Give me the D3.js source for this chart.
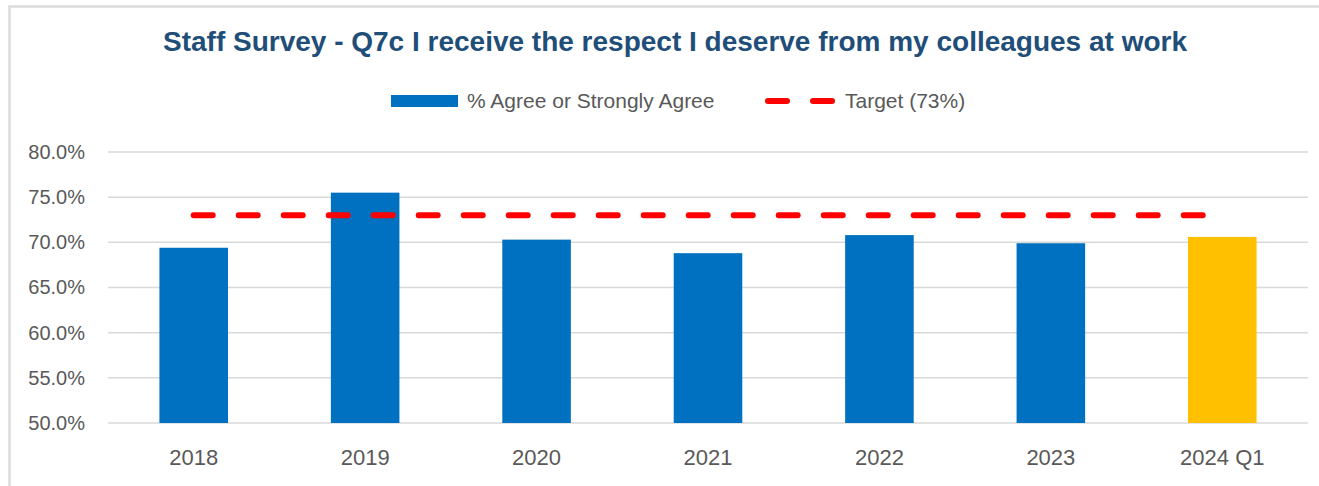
<!DOCTYPE html>
<html>
<head>
<meta charset="utf-8">
<script src="https://cdnjs.cloudflare.com/ajax/libs/d3/7.8.5/d3.min.js"></script>
<style>
  body { margin: 0; background: #fff; }
  text { font-family: "Liberation Sans", Arial, sans-serif; }
</style>
</head>
<body>
<svg id="chart" width="1319" height="486"></svg>
<script>
// data
var categories = ["2018", "2019", "2020", "2021", "2022", "2023", "2024 Q1"];
var agreeValues = [69.4, 75.5, 70.3, 68.8, 70.8, 69.9, 70.6];
var barColours = ["#0070C0", "#0070C0", "#0070C0", "#0070C0", "#0070C0", "#0070C0", "#FFC000"];
var target = 73;
var yTicks = [50, 55, 60, 65, 70, 75, 80];

var svg = d3.select("#chart");

var margin = {left: 108, right: 11, top: 152, bottom: 63};
var W = 1319, H = 486;

// frame of the original chart area
svg.append("rect")
    .attr("x", 9.5).attr("y", 6.5)
    .attr("width", 1330).attr("height", 500)
    .attr("fill", "none")
    .attr("stroke", "#dcdcdc")
    .attr("stroke-width", 2.5);

var x = d3.scaleBand()
    .domain(categories)
    .range([margin.left, W - margin.right])
    .paddingInner(0.6)
    .paddingOuter(0.3);

var y = d3.scaleLinear()
    .domain([50, 80])
    .range([H - margin.bottom, margin.top]);

// gridlines
svg.append("g")
  .selectAll("line")
  .data(yTicks)
  .enter()
  .append("line")
    .attr("x1", margin.left)
    .attr("x2", W - margin.right)
    .attr("y1", d => y(d))
    .attr("y2", d => y(d))
    .attr("stroke", "#d9d9d9")
    .attr("stroke-width", 1.5);

// y axis labels
var yAxis = d3.axisLeft(y)
    .tickValues(yTicks)
    .tickFormat(d => d3.format(".1f")(d) + "%")
    .tickSize(0)
    .tickPadding(23);

var gy = svg.append("g")
    .attr("transform", "translate(" + margin.left + ",0)")
    .call(yAxis);
gy.select(".domain").remove();
gy.selectAll("text")
    .attr("fill", "#595959")
    .style("font-size", "20px")
    .style("font-family", "Liberation Sans, Arial, sans-serif");

// bars
svg.append("g")
  .selectAll("rect")
  .data(categories)
  .enter()
  .append("rect")
    .attr("x", d => x(d))
    .attr("width", x.bandwidth())
    .attr("y", (d, i) => y(agreeValues[i]))
    .attr("height", (d, i) => y(50) - y(agreeValues[i]))
    .attr("fill", (d, i) => barColours[i]);

// x axis labels
var xAxis = d3.axisBottom(x).tickSize(0).tickPadding(26);
var gx = svg.append("g")
    .attr("transform", "translate(0," + y(50) + ")")
    .call(xAxis);
gx.select(".domain").remove();
gx.selectAll("text")
    .attr("fill", "#595959")
    .style("font-size", "22px")
    .style("font-family", "Liberation Sans, Arial, sans-serif");

// target line
var half = x.bandwidth() / 2;
svg.append("line")
    .attr("x1", x(categories[0]) + half)
    .attr("x2", x(categories[categories.length - 1]) + half)
    .attr("y1", y(target))
    .attr("y2", y(target))
    .attr("stroke", "#FF0000")
    .attr("stroke-width", 6)
    .attr("stroke-linecap", "round")
    .attr("stroke-dasharray", "19,26");

// title
svg.append("text")
    .attr("x", 675)
    .attr("y", 51)
    .attr("text-anchor", "middle")
    .attr("fill", "#1F4E79")
    .style("font-size", "28px")
    .style("font-weight", "bold")
    .text("Staff Survey - Q7c I receive the respect I deserve from my colleagues at work");

// legend
var lg = svg.append("g");
lg.append("rect")
    .attr("x", 391).attr("y", 95)
    .attr("width", 67).attr("height", 12)
    .attr("fill", "#0070C0");
lg.append("text")
    .attr("x", 467).attr("y", 108)
    .attr("fill", "#595959")
    .style("font-size", "21px")
    .text("% Agree or Strongly Agree");
lg.append("line")
    .attr("x1", 768).attr("x2", 833)
    .attr("y1", 101).attr("y2", 101)
    .attr("stroke", "#FF0000")
    .attr("stroke-width", 6)
    .attr("stroke-linecap", "round")
    .attr("stroke-dasharray", "19,26");
lg.append("text")
    .attr("x", 845).attr("y", 108)
    .attr("fill", "#595959")
    .style("font-size", "21px")
    .text("Target (73%)");
</script>
</body>
</html>
